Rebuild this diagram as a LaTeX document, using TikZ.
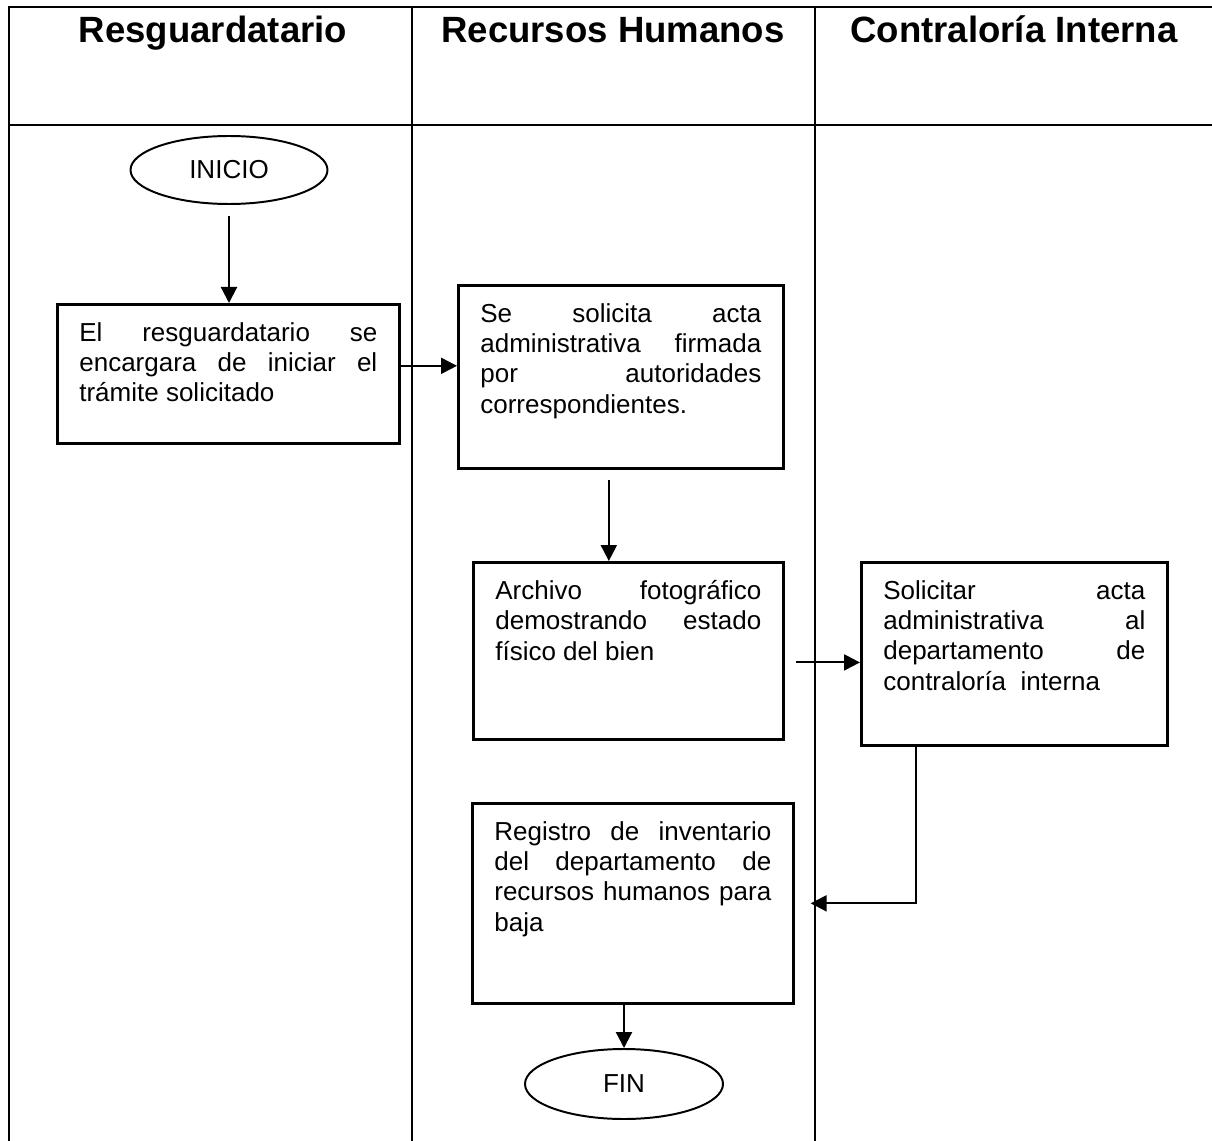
\documentclass[tikz,border=0pt]{standalone}
\usepackage{fontspec}
\setmainfont{Liberation Sans}
\usetikzlibrary{arrows.meta,shapes.geometric}

\begin{document}
\begin{tikzpicture}[x=1cm,y=1cm]
\tikzset{
  lane/.style={line width=1.2pt},
  lanetitle/.style={anchor=base,font=\fontsize{26}{30}\selectfont\bfseries},
  procbox/.style={rectangle,draw,line width=1.9pt,anchor=north west,inner xsep=0.55cm,inner ysep=0.45cm,font=\fontsize{18.5}{21.6}\selectfont},
  terminal/.style={ellipse,draw,line width=1.4pt,inner sep=0pt,font=\fontsize{18.5}{21.6}\selectfont},
  flow/.style={-{Triangle[length=4mm,width=4mm]},line width=1.5pt}
}
\useasboundingbox (0,0) rectangle (30.3,-28.525);
% swimlanes
\draw[lane] (0.225,-28.525) -- (0.225,-0.175) -- (30.3,-0.175);
\draw[lane] (0.225,-3.125) -- (30.3,-3.125);
\draw[lane] (10.3,-0.175) -- (10.3,-28.525);
\draw[lane] (20.375,-0.175) -- (20.375,-28.525);
\node[lanetitle] (t_resg) at (5.325,-1.075) {Resguardatario};
\node[lanetitle] (t_rh) at (15.325,-1.075) {Recursos Humanos};
\node[lanetitle] (t_ci) at (25.35,-1.075) {Contraloría Interna};
% steps
\node[terminal,minimum width=4.925cm,minimum height=1.7cm] (inicio) at (5.725,-4.25) {INICIO};
\node[procbox] (box1) at (1.4,-7.575) {\parbox[c][2.575cm][t]{7.45cm}{El resguardatario se\linebreak encargara de iniciar el\linebreak trámite solicitado}};
\node[procbox] (box2) at (11.425,-7.1) {\parbox[c][3.675cm][t]{7.025cm}{Se solicita acta\linebreak administrativa firmada\linebreak por autoridades\linebreak correspondientes.}};
\node[procbox] (box3) at (11.8,-14.025) {\parbox[c][3.525cm][t]{6.65cm}{Archivo fotográfico\linebreak demostrando estado\linebreak físico del bien}};
\node[procbox] (box4) at (21.5,-14.025) {\parbox[c][3.675cm][t]{6.55cm}{Solicitar acta\linebreak administrativa al\linebreak departamento de\linebreak contraloría\ \ interna}};
\node[procbox] (box5) at (11.775,-20.05) {\parbox[c][4.1cm][t]{6.925cm}{Registro de inventario\linebreak del departamento de\linebreak recursos humanos para\linebreak baja}};
\node[terminal,minimum width=4.95cm,minimum height=1.75cm] (fin) at (15.6,-27.1) {FIN};
% connectors
\draw[flow,shorten <=0.275cm] (inicio.south) -- (inicio.south |- box1.north);
\draw[flow] ([yshift=0.2cm]box1.east) -- ([yshift=0.2cm]box1.east -| box2.west);
\draw[flow,shorten <=0.25cm] ([xshift=-0.3cm]box2.south) -- ([xshift=-0.3cm]box2.south |- box3.north);
\draw[flow,shorten <=0.275cm] ([yshift=-0.29cm]box3.east) -- ([yshift=-0.29cm]box3.east -| box4.west);
\draw[flow,shorten >=0.4cm] ([xshift=1.4cm]box4.south west) |- (box5.east);
\draw[flow] (fin.north |- box5.south) -- (fin.north);
\end{tikzpicture}
\end{document}
